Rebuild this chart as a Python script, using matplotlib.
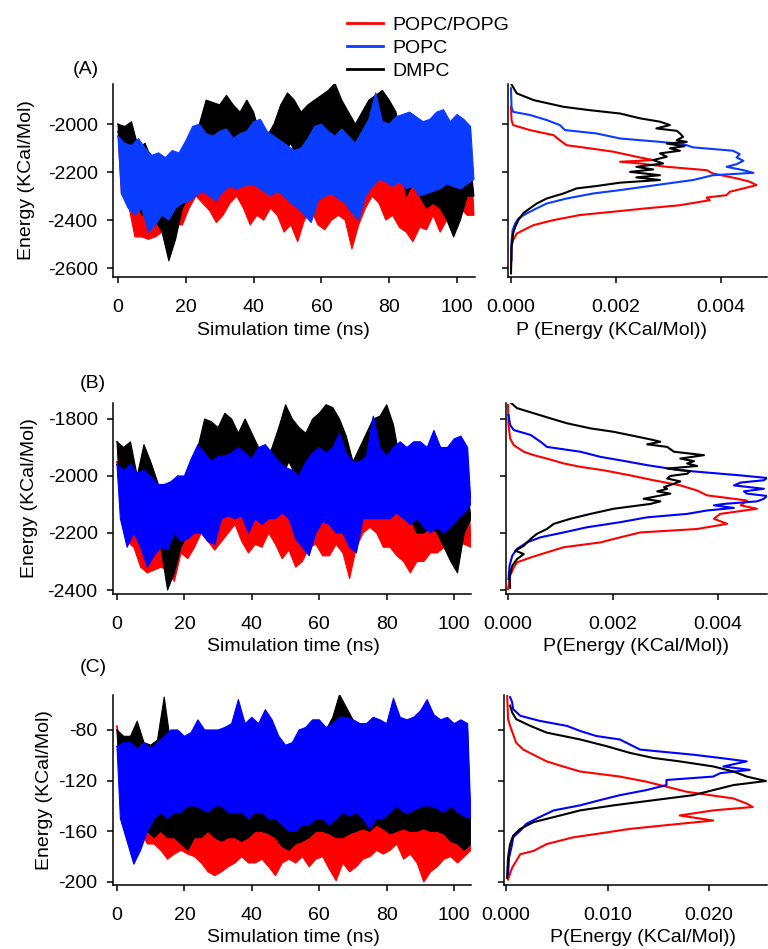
import numpy as np
import matplotlib
matplotlib.use("Agg")
import matplotlib.pyplot as plt

plt.rcParams['font.family'] = ['Liberation Sans', 'DejaVu Sans']
plt.rcParams['font.size'] = 14
plt.rcParams['axes.unicode_minus'] = False

RED, BLUE, BLACK = '#ff0000', '#0a3cff', '#000000'
labels = ['POPC/POPG', 'POPC', 'DMPC']

# Energy traces, summarised as per-window maxima / minima (2 ns windows, 0..104 ns)
dt = 2.0

# ---- (A) ----
a_red_hi = [-2030,-2120,-2150,-2120,-2150,-2170,-2160,-2180,-2150,-2130,-2120,-2080,-2070,-2100,-2100,-2090,-2080,-2110,-2120,-2130,-2150,-2160,-2130,-2120,-2130,-2140,-2160,-2150,-2110,-2070,-2060,-2100,-2110,-2090,-2120,-2150,-2120,-2100,-2080,-2110,-2120,-2110,-2100,-2090,-2100,-2090,-2060,-2050,-2060,-2080,-2050,-2070,-2100]
a_red_lo = [-2290,-2330,-2470,-2470,-2480,-2470,-2450,-2500,-2420,-2420,-2350,-2300,-2330,-2360,-2410,-2380,-2330,-2300,-2350,-2420,-2380,-2400,-2350,-2380,-2450,-2420,-2490,-2400,-2360,-2420,-2440,-2400,-2380,-2400,-2520,-2420,-2350,-2300,-2330,-2400,-2380,-2430,-2450,-2490,-2430,-2440,-2380,-2450,-2400,-2420,-2350,-2380,-2380]
a_blue_hi = [-2050,-2080,-2090,-2060,-2100,-2130,-2120,-2140,-2110,-2120,-2070,-2010,-2000,-2040,-2050,-2030,-2020,-2060,-2040,-2030,-1990,-1980,-2030,-2050,-2070,-2090,-2110,-2100,-2060,-2010,-2000,-2030,-2050,-2020,-2050,-2080,-2030,-1980,-1870,-1990,-2000,-1970,-1960,-1950,-1970,-1990,-1980,-1950,-1940,-1990,-1960,-1980,-2010]
a_blue_lo = [-2290,-2350,-2380,-2350,-2450,-2420,-2380,-2400,-2350,-2330,-2320,-2300,-2280,-2300,-2320,-2280,-2260,-2270,-2260,-2250,-2260,-2280,-2300,-2280,-2300,-2330,-2350,-2380,-2410,-2320,-2300,-2290,-2310,-2330,-2370,-2400,-2300,-2260,-2230,-2240,-2260,-2240,-2270,-2260,-2300,-2290,-2280,-2270,-2250,-2260,-2270,-2250,-2230]
a_black_hi = [-2000,-2010,-1990,-2100,-2080,-2150,-2200,-2280,-2220,-2200,-2150,-2100,-2000,-1900,-1910,-1920,-1880,-1920,-1950,-1900,-1950,-2050,-2050,-2000,-1920,-1870,-1900,-1950,-1920,-1900,-1880,-1860,-1830,-1900,-1950,-2000,-1950,-1900,-1880,-1860,-1900,-1950,-2100,-2150,-2150,-2200,-2150,-2180,-2200,-2250,-2150,-2150,-2170]
a_black_lo = [-2250,-2200,-2280,-2380,-2350,-2400,-2450,-2570,-2480,-2350,-2300,-2250,-2200,-2100,-2100,-2100,-2080,-2100,-2150,-2100,-2150,-2250,-2260,-2200,-2120,-2080,-2150,-2200,-2150,-2100,-2050,-2080,-2080,-2100,-2170,-2230,-2150,-2100,-2080,-2050,-2050,-2100,-2300,-2250,-2300,-2350,-2330,-2350,-2400,-2470,-2400,-2300,-2300]

# ---- (B) ----
b_red_hi = [-1950,-2050,-2060,-2050,-2060,-2080,-2080,-2100,-2060,-2000,-2040,-1990,-1980,-1960,-1970,-1980,-1980,-2000,-2010,-2030,-2040,-2050,-2030,-2020,-2020,-2040,-2050,-2050,-1980,-1950,-1940,-1990,-2000,-1990,-2020,-2050,-2030,-2000,-1980,-2000,-2010,-2000,-2000,-1990,-2000,-1990,-1960,-1950,-1960,-1970,-1900,-1950,-1950]
b_red_lo = [-2100,-2230,-2250,-2320,-2340,-2330,-2320,-2330,-2370,-2270,-2290,-2250,-2200,-2230,-2260,-2230,-2200,-2170,-2230,-2270,-2240,-2250,-2200,-2240,-2290,-2260,-2320,-2300,-2250,-2240,-2280,-2280,-2240,-2270,-2360,-2250,-2200,-2180,-2200,-2250,-2250,-2280,-2300,-2340,-2300,-2300,-2270,-2270,-2250,-2270,-2230,-2240,-2250]
b_blue_hi = [-1960,-1980,-1960,-1990,-1980,-2000,-2030,-2030,-2020,-2000,-2000,-1940,-1890,-1920,-1950,-1930,-1930,-1920,-1900,-1920,-1940,-1900,-1890,-1920,-1950,-1970,-1980,-2000,-1950,-1920,-1900,-1920,-1900,-1850,-1920,-1950,-1950,-1930,-1790,-1900,-1930,-1900,-1880,-1900,-1880,-1880,-1900,-1840,-1900,-1900,-1870,-1860,-1900]
b_blue_lo = [-2150,-2250,-2200,-2250,-2320,-2280,-2250,-2260,-2200,-2230,-2220,-2200,-2200,-2230,-2240,-2150,-2140,-2150,-2140,-2200,-2150,-2170,-2150,-2150,-2130,-2150,-2220,-2250,-2280,-2200,-2160,-2170,-2200,-2200,-2250,-2270,-2150,-2150,-2150,-2150,-2150,-2130,-2150,-2170,-2150,-2180,-2200,-2180,-2200,-2180,-2150,-2130,-2100]
b_black_hi = [-1880,-1900,-1880,-2000,-1890,-1950,-2020,-2100,-2050,-2000,-2050,-1950,-1900,-1800,-1810,-1830,-1780,-1800,-1850,-1800,-1850,-1900,-1950,-1900,-1830,-1750,-1800,-1830,-1850,-1800,-1780,-1750,-1760,-1800,-1860,-1950,-1900,-1850,-1800,-1790,-1750,-1820,-1950,-2000,-2050,-2030,-2050,-2030,-2080,-2100,-2050,-2050,-2050]
b_black_lo = [-2100,-2150,-2150,-2250,-2150,-2200,-2250,-2400,-2340,-2250,-2200,-2100,-2050,-2000,-1980,-2000,-1970,-1980,-2050,-2000,-2050,-2100,-2150,-2100,-2000,-1950,-2000,-2050,-2050,-2000,-1950,-1950,-1970,-2000,-2050,-2100,-2050,-2000,-1980,-1950,-1950,-1980,-2150,-2150,-2200,-2200,-2180,-2200,-2250,-2300,-2340,-2200,-2150]

# ---- (C) ----
c_red_hi = [-77,-100,-95,-100,-100,-98,-100,-105,-105,-105,-105,-110,-110,-112,-115,-112,-110,-108,-105,-108,-110,-105,-108,-112,-110,-108,-110,-105,-108,-105,-105,-110,-112,-108,-110,-108,-105,-100,-95,-82,-100,-98,-105,-102,-105,-110,-108,-105,-102,-100,-105,-102,-100]
c_red_lo = [-130,-150,-160,-160,-170,-170,-175,-182,-178,-175,-178,-180,-185,-192,-195,-192,-188,-185,-180,-185,-185,-182,-188,-195,-185,-182,-185,-180,-188,-182,-180,-190,-199,-185,-192,-188,-182,-180,-175,-178,-175,-170,-182,-178,-185,-200,-192,-188,-182,-180,-185,-180,-175]
c_blue_hi = [-93,-90,-90,-95,-90,-95,-90,-85,-80,-80,-85,-82,-72,-80,-80,-80,-78,-75,-56,-75,-70,-75,-64,-72,-85,-92,-90,-80,-78,-72,-72,-78,-75,-70,-70,-72,-75,-75,-70,-72,-75,-55,-70,-72,-70,-65,-56,-68,-72,-70,-75,-72,-75]
c_blue_lo = [-150,-168,-186,-175,-160,-150,-145,-150,-145,-145,-140,-140,-142,-145,-140,-140,-145,-145,-145,-150,-145,-145,-150,-150,-155,-160,-160,-155,-155,-150,-150,-155,-150,-145,-148,-145,-150,-158,-150,-150,-145,-140,-145,-145,-142,-140,-140,-142,-145,-140,-145,-148,-150]
c_black_hi = [-80,-85,-85,-73,-90,-92,-88,-54,-92,-95,-95,-95,-95,-95,-95,-95,-95,-95,-95,-95,-95,-95,-95,-95,-92,-98,-100,-95,-88,-85,-85,-80,-70,-52,-62,-72,-75,-80,-80,-82,-80,-85,-85,-85,-85,-85,-85,-85,-85,-85,-80,-78,-80]
c_black_lo = [-130,-140,-145,-150,-160,-165,-160,-165,-165,-170,-175,-165,-165,-160,-165,-168,-165,-165,-168,-165,-160,-160,-162,-165,-172,-175,-170,-168,-165,-160,-160,-162,-165,-165,-162,-160,-158,-160,-155,-158,-162,-160,-158,-160,-160,-158,-160,-160,-162,-168,-170,-175,-170]

# Energy distributions: energy grid and probability
a_red_E = [-1928,-1983,-2004,-2025,-2046,-2067,-2088,-2101,-2115,-2136,-2150,-2157,-2164,-2178,-2192,-2206,-2226,-2240,-2254,-2268,-2282,-2296,-2306,-2317,-2338,-2351,-2365,-2379,-2400,-2421,-2435,-2456,-2483,-2511,-2594]
a_red_P = [0,0.00001,0.00004,0.00036,0.00081,0.00093,0.00106,0.00150,0.00195,0.00239,0.00271,0.00208,0.00246,0.00297,0.00373,0.00385,0.00430,0.00455,0.00468,0.00443,0.00417,0.00411,0.00373,0.00379,0.00322,0.00258,0.00195,0.00131,0.00081,0.00043,0.00030,0.00011,0.00004,0.00001,0]
a_blue_E = [-1851,-1928,-1949,-1962,-1983,-2004,-2025,-2039,-2060,-2074,-2083,-2097,-2111,-2125,-2139,-2153,-2167,-2178,-2192,-2203,-2213,-2233,-2254,-2275,-2289,-2310,-2331,-2351,-2372,-2393,-2414,-2442,-2490,-2567]
a_blue_P = [0,0.00001,0.00004,0.00036,0.00068,0.00093,0.00103,0.00163,0.00208,0.00284,0.00328,0.00347,0.00423,0.00436,0.00430,0.00443,0.00430,0.00411,0.00443,0.00462,0.00385,0.00347,0.00277,0.00208,0.00157,0.00106,0.00068,0.00049,0.00030,0.00014,0.00008,0.00003,0.00001,0.00001]
a_black_E = [-1831,-1872,-1900,-1928,-1942,-1956,-1976,-1990,-2004,-2018,-2028,-2039,-2053,-2067,-2074,-2081,-2092,-2101,-2111,-2122,-2136,-2150,-2164,-2178,-2189,-2199,-2213,-2222,-2233,-2244,-2258,-2268,-2289,-2310,-2331,-2351,-2372,-2400,-2428,-2456,-2511,-2622]
a_black_P = [0,0.00011,0.00043,0.00100,0.00150,0.00208,0.00246,0.00284,0.00303,0.00277,0.00316,0.00322,0.00328,0.00316,0.00335,0.00297,0.00331,0.00303,0.00322,0.00284,0.00297,0.00271,0.00290,0.00239,0.00271,0.00227,0.00284,0.00239,0.00284,0.00208,0.00163,0.00125,0.00100,0.00068,0.00049,0.00036,0.00023,0.00014,0.00008,0.00004,0.00001,0]

b_red_E = [-1751,-1821,-1868,-1892,-1915,-1927,-1939,-1956,-1968,-1980,-1998,-2015,-2033,-2051,-2068,-2086,-2103,-2115,-2133,-2150,-2168,-2186,-2198,-2215,-2233,-2250,-2268,-2286,-2303,-2321,-2350,-2397]
b_red_P = [0,0.00001,0.00004,0.00011,0.00030,0.00049,0.00074,0.00106,0.00138,0.00182,0.00233,0.00277,0.00328,0.00360,0.00379,0.00455,0.00443,0.00474,0.00404,0.00392,0.00417,0.00360,0.00252,0.00214,0.00176,0.00106,0.00074,0.00043,0.00017,0.00011,0.00004,0]
b_blue_E = [-1786,-1821,-1839,-1856,-1880,-1898,-1915,-1933,-1945,-1962,-1980,-1998,-2007,-2015,-2023,-2033,-2045,-2054,-2062,-2070,-2080,-2089,-2098,-2103,-2112,-2121,-2133,-2145,-2162,-2180,-2198,-2215,-2233,-2256,-2280,-2315,-2362]
b_blue_P = [0.00001,0.00004,0.00011,0.00043,0.00062,0.00074,0.00138,0.00176,0.00214,0.00265,0.00328,0.00443,0.00493,0.00487,0.00443,0.00430,0.00487,0.00449,0.00455,0.00493,0.00487,0.00474,0.00411,0.00392,0.00430,0.00379,0.00341,0.00265,0.00214,0.00150,0.00106,0.00062,0.00036,0.00017,0.00008,0.00003,0.00001]
b_black_E = [-1739,-1762,-1780,-1798,-1815,-1833,-1845,-1862,-1874,-1880,-1889,-1898,-1915,-1927,-1939,-1948,-1956,-1965,-1974,-1983,-1992,-2000,-2009,-2019,-2027,-2039,-2045,-2054,-2062,-2080,-2089,-2098,-2115,-2133,-2150,-2168,-2186,-2203,-2221,-2245,-2262,-2274,-2292,-2315,-2350,-2392]
b_black_P = [0.00003,0.00017,0.00049,0.00081,0.00112,0.00157,0.00201,0.00246,0.00277,0.00290,0.00265,0.00303,0.00316,0.00373,0.00328,0.00354,0.00341,0.00360,0.00303,0.00347,0.00341,0.00309,0.00303,0.00328,0.00316,0.00297,0.00303,0.00284,0.00309,0.00258,0.00290,0.00271,0.00201,0.00157,0.00119,0.00087,0.00074,0.00055,0.00043,0.00030,0.00014,0.00030,0.00017,0.00008,0.00003,0.00004]

c_red_E = [-50.1,-71.5,-76.8,-83.5,-90.1,-95.5,-100.8,-104.8,-108.8,-112.8,-116.8,-120.8,-124.8,-128.8,-134.1,-138.1,-140.8,-143.5,-147.5,-151.5,-154.1,-158.1,-162.1,-164.8,-170.1,-175.5,-178.1,-183.5,-188.8,-198.1]
c_red_P = [0.0001,0.0002,0.0004,0.0007,0.0010,0.0017,0.0030,0.0040,0.0056,0.0073,0.0112,0.0138,0.0158,0.0178,0.0224,0.0237,0.0243,0.0204,0.0171,0.0204,0.0171,0.0122,0.0089,0.0066,0.0040,0.0027,0.0014,0.0010,0.0006,0.0002]
c_blue_E = [-54.1,-58.1,-63.5,-68.8,-72.8,-76.8,-80.8,-84.8,-87.5,-91.5,-95.5,-99.5,-102.1,-104.8,-108.8,-111.5,-114.1,-116.8,-119.5,-123.5,-127.5,-131.5,-135.5,-139.5,-143.5,-148.8,-154.1,-159.5,-164.8,-170.1,-180.8,-194.1]
c_blue_P = [0.0004,0.0006,0.0007,0.0014,0.0033,0.0060,0.0073,0.0089,0.0112,0.0122,0.0132,0.0184,0.0211,0.0237,0.0214,0.0240,0.0211,0.0204,0.0158,0.0158,0.0138,0.0112,0.0092,0.0073,0.0047,0.0033,0.0020,0.0014,0.0007,0.0006,0.0003,0.0002]
c_black_E = [-60.8,-66.1,-71.5,-76.8,-82.1,-87.5,-92.8,-98.1,-102.1,-104.8,-108.8,-112.8,-116.8,-120.3,-123.5,-127.5,-131.5,-135.5,-139.5,-143.5,-148.8,-152.8,-158.1,-163.5,-170.1,-180.8,-196.8]
c_black_P = [0.0004,0.0006,0.0010,0.0024,0.0040,0.0073,0.0099,0.0122,0.0145,0.0171,0.0204,0.0224,0.0237,0.0256,0.0224,0.0204,0.0184,0.0145,0.0106,0.0073,0.0047,0.0027,0.0014,0.0007,0.0004,0.0002,0.0001]


def band(hi, lo):
    """Closed outline of a min/max envelope: maxima at window starts, minima at mid-window."""
    hi = np.asarray(hi, float)
    lo = np.asarray(lo, float)
    t = np.arange(len(hi)) * dt
    x = np.concatenate([t, (t + dt / 2)[::-1], t[:1]])
    y = np.concatenate([hi, lo[::-1], hi[:1]])
    return x, y


W, H = 768, 949
fig = plt.figure(figsize=(W / 100, H / 100), dpi=100)


def px_axes(x0, y0, x1, y1):
    return fig.add_axes([x0 / W, 1 - y1 / H, (x1 - x0) / W, (y1 - y0) / H])


def style(ax, xpad=12, ypad=7):
    for s in ('top', 'right'):
        ax.spines[s].set_visible(False)
    for s in ('left', 'bottom'):
        ax.spines[s].set_linewidth(1.1)
    ax.tick_params(direction='out', length=4, width=1.1)
    ax.tick_params(axis='x', pad=xpad)
    ax.tick_params(axis='y', pad=ypad)


panels = [
    dict(tag='(A)', tag_xy=(73, 70),
         traces=[(a_red_hi, a_red_lo), (a_blue_hi, a_blue_lo), (a_black_hi, a_black_lo)],
         dists=[(a_red_E, a_red_P), (a_blue_E, a_blue_P), (a_black_E, a_black_P)],
         left=(113, 84, 475, 277), right=(508, 84, 767, 277),
         xlim=(-1.47, 105.3), ylim=(-2637, -1833), yticks=[-2600, -2400, -2200, -2000],
         plim=(-0.000057, 0.00488), pticks=[0, 0.002, 0.004], pfmt='%.3f',
         plabel='P (Energy (KCal/Mol))', ylab_x=25, xlab_cx=283, plab_cx=611,
         blue='#0a3cff'),
    dict(tag='(B)', tag_xy=(80, 383),
         traces=[(b_red_hi, b_red_lo), (b_blue_hi, b_blue_lo), (b_black_hi, b_black_lo)],
         dists=[(b_red_E, b_red_P), (b_blue_E, b_blue_P), (b_black_E, b_black_P)],
         left=(113, 403, 471, 594), right=(506, 403, 767, 594),
         xlim=(-1.19, 105.0), ylim=(-2414, -1744), yticks=[-2400, -2200, -2000, -1800],
         plim=(-0.000038, 0.00493), pticks=[0, 0.002, 0.004], pfmt='%.3f',
         plabel='P(Energy (KCal/Mol))', ylab_x=28, xlab_cx=293, plab_cx=636,
         blue='#0000ff'),
    dict(tag='(C)', tag_xy=(80, 668),
         traces=[(c_red_hi, c_red_lo), (c_blue_hi, c_blue_lo), (c_black_hi, c_black_lo)],
         dists=[(c_red_E, c_red_P), (c_blue_E, c_blue_P), (c_black_E, c_black_P)],
         left=(113, 695, 471, 885), right=(504, 695, 767, 885),
         xlim=(-1.19, 105.0), ylim=(-202.4, -52.4), yticks=[-200, -160, -120, -80],
         plim=(-0.0002, 0.0257), pticks=[0, 0.010, 0.020], pfmt='%.3f',
         plabel='P(Energy (KCal/Mol))', ylab_x=43, xlab_cx=293, plab_cx=643,
         blue='#0000ff'),
]

legend_lines = None
for p in panels:
    colors = [RED, p['blue'], BLACK]
    ax = px_axes(*p['left'])
    style(ax)
    lines = {}
    # stacking: POPC/POPG at the bottom, DMPC above it, POPC on top
    for z, idx in enumerate((0, 2, 1)):
        hi, lo = p['traces'][idx]
        x, y = band(hi, lo)
        ax.fill(x, y, color=colors[idx], lw=0, zorder=2 + z)
        (ln,) = ax.plot(x, y, color=colors[idx], lw=0.8, zorder=2 + z)
        lines[idx] = ln
    ax.set_xlim(*p['xlim'])
    ax.set_ylim(*p['ylim'])
    ax.set_xticks([0, 20, 40, 60, 80, 100])
    ax.set_yticks(p['yticks'])
    x0, y0, x1, y1 = p['left']
    ax.set_xlabel('Simulation time (ns)')
    ax.xaxis.set_label_coords((p['xlab_cx'] - x0) / (x1 - x0), -0.232)
    ax.set_ylabel('Energy (KCal/Mol)')
    ax.yaxis.set_label_coords((p['ylab_x'] + 10 - x0) / (x1 - x0), 0.5)
    if legend_lines is None:
        legend_lines = [lines[0], lines[1], lines[2]]

    axr = px_axes(*p['right'])
    style(axr)
    for idx in (0, 1, 2):
        E, P = p['dists'][idx]
        axr.plot(P, E, color=colors[idx], lw=1.5)
    axr.set_xlim(*p['plim'])
    axr.set_ylim(*p['ylim'])
    axr.set_xticks(p['pticks'])
    axr.xaxis.set_major_formatter(matplotlib.ticker.FormatStrFormatter(p['pfmt']))
    axr.set_yticks(p['yticks'])
    axr.set_yticklabels([])
    rx0, ry0, rx1, ry1 = p['right']
    axr.set_xlabel(p['plabel'])
    axr.xaxis.set_label_coords((p['plab_cx'] - rx0) / (rx1 - rx0), -0.232)

    fig.text(p['tag_xy'][0] / W, 1 - p['tag_xy'][1] / H, p['tag'], ha='left', va='center')

leg = fig.legend(legend_lines, labels, loc='upper left', bbox_to_anchor=(347 / W, 1 - 16 / H),
                 frameon=False, borderpad=0, borderaxespad=0, handlelength=1.85,
                 handletextpad=0.46, labelspacing=0.28)
for h in leg.legend_handles:
    h.set_linewidth(2.0)

fig.savefig('out.png', dpi=100)
